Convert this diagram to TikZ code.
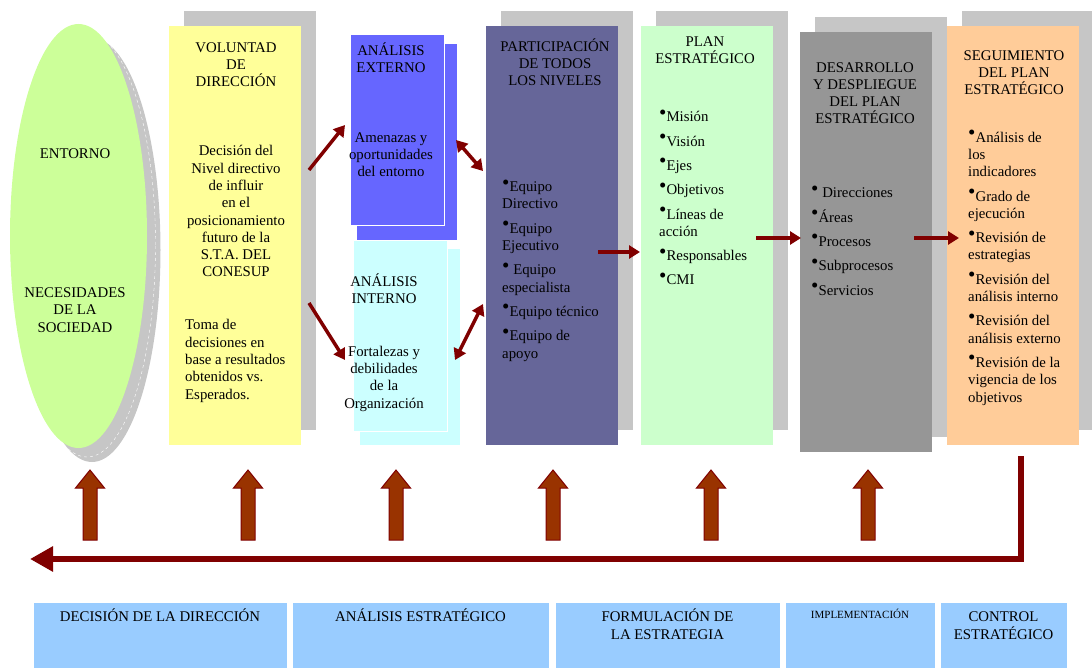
\documentclass[tikz,border=0pt]{standalone}
\usepackage{fontspec}
\setmainfont{Liberation Serif}
\usetikzlibrary{arrows.meta}
\usetikzlibrary{shadows}
\usetikzlibrary{shapes.geometric}

\definecolor{rojo}{HTML}{800000}
\definecolor{ladrillo}{HTML}{993300}
\definecolor{verdelima}{HTML}{CCFF99}
\definecolor{amarillo}{HTML}{FFFF99}
\definecolor{azul}{HTML}{6666FF}
\definecolor{celeste}{HTML}{CCFFFF}
\definecolor{morado}{HTML}{666699}
\definecolor{verde}{HTML}{CCFFCC}
\definecolor{gris}{HTML}{969696}
\definecolor{naranja}{HTML}{FFCC99}
\definecolor{azulclaro}{HTML}{99CCFF}
\definecolor{sombra}{HTML}{C6C6C6}

\newcommand{\letra}{\fontsize{14.8}{17.3}\selectfont}
\newcommand{\itm}{\raisebox{2.5pt}{\fontsize{21}{21}\selectfont\textbullet}}

\tikzset{
  columna/.style={anchor=north west, inner sep=0pt, minimum width=132pt, minimum height=419pt,
    general shadow={fill=sombra, shadow xshift=15pt, shadow yshift=15pt}},
  analisis/.style={anchor=north west, inner sep=0pt, minimum width=94pt, minimum height=191pt, draw=white, thin},
  fasebox/.style={anchor=north west, inner sep=0pt, minimum height=66pt, fill=azulclaro, draw=white, thin},
  txt/.style={inner sep=0pt, font=\letra, anchor=base, align=center},
  lista/.style={txt, align=left, anchor=base west},
  flecha/.style={draw=rojo, line width=3.5pt, -{Triangle[length=11pt,width=13pt]}},
  flechas/.style={flecha, {Triangle[length=11pt,width=13pt]}-{Triangle[length=11pt,width=13pt]}},
  retorno/.style={draw=rojo, line width=6pt, -{Triangle[length=23pt,width=24pt]}},
  bloque/.style={draw=rojo, fill=ladrillo, line width=1pt}
}

\begin{document}
\begin{tikzpicture}[x=1pt,y=-1pt]
\useasboundingbox (0,0) rectangle (1092,668);

% entorno
\fill[sombra] (92,250) ellipse [x radius=68.5pt, y radius=212pt];
\draw[white,dashed,thin] (87,245) ellipse [x radius=68.5pt, y radius=212pt];
\node[ellipse, fill=verdelima, inner sep=0pt, minimum width=137pt, minimum height=424pt] (entorno) at (78.5,236) {};
\node[txt] (entornotx) at (75,159) {ENTORNO};
\node[txt] (necesidades) at (75,332) {NECESIDADES\\DE LA\\SOCIEDAD};

% columnas
\node[columna, fill=amarillo] (voluntad) at (169,26) {};
\node[columna, fill=morado] (participacion) at (486,26) {};
\node[columna, fill=verde] (plan) at (641,26) {};
\node[columna, fill=gris, minimum height=420pt] (desarrollo) at (800,32) {};
\node[columna, fill=naranja] (seguimiento) at (947,26) {};

\fill[azul] (357,44) rectangle (457,240);
\node[analisis, fill=azul] (externo) at (350,34) {};
\fill[celeste] (360,249) rectangle (460,445);
\node[analisis, fill=celeste] (interno) at (353,240) {};

% textos (anclados en la linea base de la ultima linea)
\node[txt] (voltit) at (236,87) {VOLUNTAD\\DE\\DIRECCIÓN};
\node[txt] (voldec) at (236,277) {Decisión del\\Nivel directivo\\de influir\\en el\\posicionamiento\\futuro de la\\S.T.A. DEL\\CONESUP};
\node[lista] (voltoma) at (185,399) {Toma de\\decisiones en\\base a resultados\\obtenidos vs.\\Esperados.};

\node[txt] (exttit) at (391,73) {ANÁLISIS\\EXTERNO};
\node[txt] (exttx) at (391,177) {Amenazas y\\oportunidades\\del entorno};
\node[txt] (inttit) at (384,304) {ANÁLISIS\\INTERNO};
\node[txt] (inttx) at (384,408) {Fortalezas y\\debilidades\\de la\\Organización};

\node[txt] (partit) at (555,86) {PARTICIPACIÓN\\DE TODOS\\LOS NIVELES};
\node[lista] (parlst) at (502,358) {\itm Equipo\\Directivo\\[7pt]\itm Equipo\\Ejecutivo\\[7pt]\itm\ Equipo\\especialista\\[7pt]\itm Equipo técnico\\[7pt]\itm Equipo de\\apoyo};

\node[txt] (plantit) at (705,64) {PLAN\\ESTRATÉGICO};
\node[lista] (planlst) at (659,285) {\itm Misión\\[7pt]\itm Visión\\[7pt]\itm Ejes\\[7pt]\itm Objetivos\\[7pt]\itm Líneas de\\acción\\[7pt]\itm Responsables\\[7pt]\itm CMI};

\node[txt] (destit) at (865,124) {DESARROLLO\\Y DESPLIEGUE\\DEL PLAN\\ESTRATÉGICO};
\node[lista] (deslst) at (811,295) {\itm\ Direcciones\\[7pt]\itm Áreas\\[7pt]\itm Procesos\\[7pt]\itm Subprocesos\\[7pt]\itm Servicios};

\node[txt] (segtit) at (1014,95) {SEGUIMIENTO\\DEL PLAN\\ESTRATÉGICO};
\node[lista] (seglst) at (968,402) {\itm Análisis de\\los\\indicadores\\[7pt]\itm Grado de\\ejecución\\[7pt]\itm Revisión de\\estrategias\\[7pt]\itm Revisión del\\análisis interno\\[7pt]\itm Revisión del\\análisis externo\\[7pt]\itm Revisión de la\\vigencia de los\\objetivos};

% flechas
\coordinate (volsup) at (309,170); \coordinate (extin) at (345,125);
\coordinate (volinf) at (309,303); \coordinate (intin) at (345,360);
\coordinate (extder) at (456,140); \coordinate (parsup) at (483,171);
\coordinate (intder) at (455,360); \coordinate (parinf) at (483,304);
\coordinate (parsal) at (598,252); \coordinate (planent) at (640,252);
\coordinate (plansal) at (756,238); \coordinate (desent) at (801,238);
\coordinate (dessal) at (914,238); \coordinate (segent) at (959,238);
\draw[flecha] (volsup) -- (extin);
\draw[flecha] (volinf) -- (intin);
\draw[flechas] (extder) -- (parsup);
\draw[flechas] (intder) -- (parinf);
\draw[flecha] (parsal) -- (planent);
\draw[flecha] (plansal) -- (desent);
\draw[flecha] (dessal) -- (segent);

\foreach \ux in {90,248,396,553,711,868}
  \draw[bloque] (\ux-7,540) -- (\ux-7,488) -- (\ux-14.5,488) -- (\ux,470)
    -- (\ux+14.5,488) -- (\ux+7,488) -- (\ux+7,540) -- cycle;

\coordinate (retA) at (1021,456); \coordinate (retB) at (1021,559); \coordinate (retC) at (30,559);
\draw[retorno] (retA) -- (retB) -- (retC);

% fases
\node[fasebox, minimum width=254.5pt] (decision) at (32.5,602) {};
\node[fasebox, minimum width=257pt] (estrategico) at (292,602) {};
\node[fasebox, minimum width=225pt] (formulacion) at (555,602) {};
\node[fasebox, minimum width=150pt] (implementacion) at (785,602) {};
\node[fasebox, minimum width=127pt] (control) at (940,602) {};
\node[txt] (dectx) at (160,621) {DECISIÓN DE LA DIRECCIÓN};
\node[txt] (anatx) at (420.5,621) {ANÁLISIS ESTRATÉGICO};
\node[txt] (fortx) at (667.5,639) {FORMULACIÓN DE\\LA ESTRATEGIA};
\node[txt, font=\fontsize{11}{13}\selectfont] (imptx) at (860,618) {IMPLEMENTACIÓN};
\node[txt] (contx) at (1003.5,639) {CONTROL\\ESTRATÉGICO};

\end{tikzpicture}
\end{document}
